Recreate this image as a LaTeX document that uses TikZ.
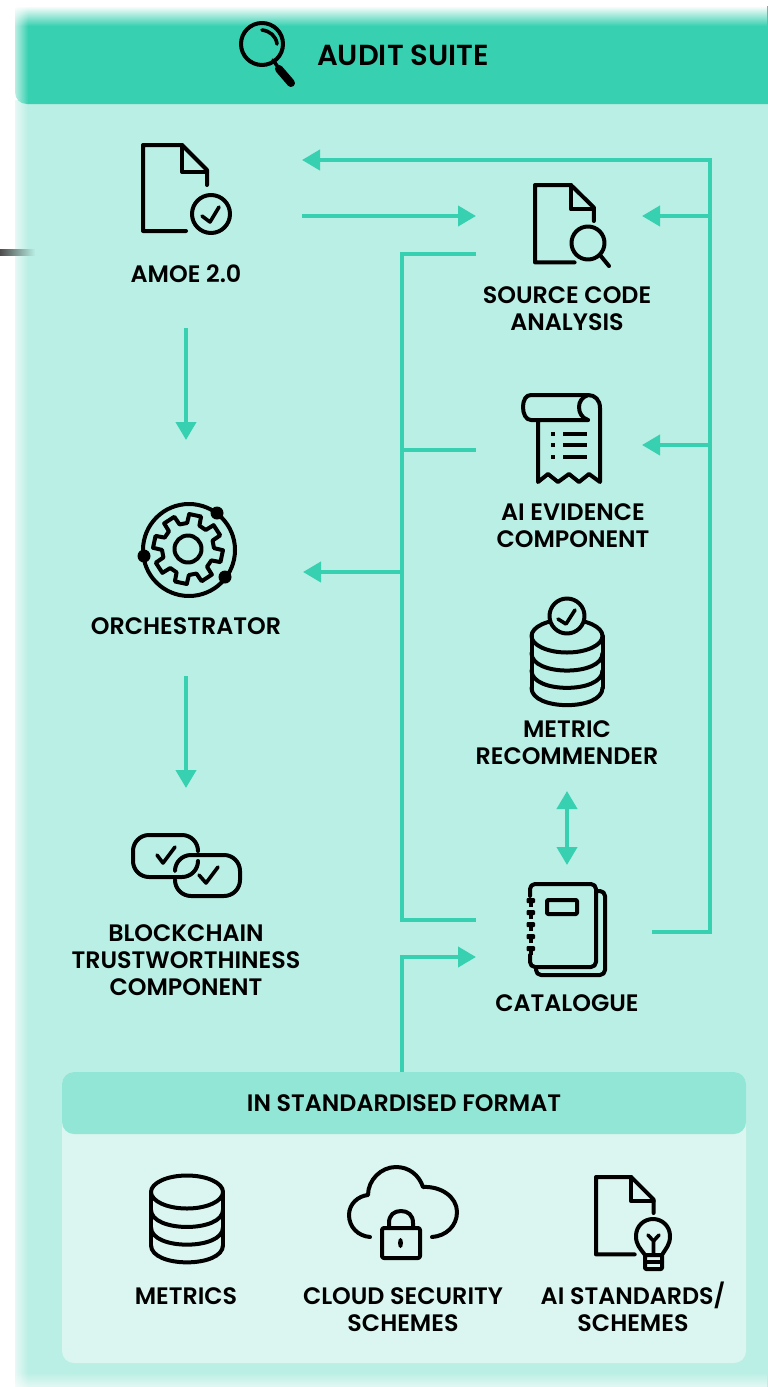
\documentclass[tikz,border=0pt]{standalone}
\usepackage{fontspec}
\setmainfont{Poppins}[UprightFont=* SemiBold]
\usetikzlibrary{arrows.meta, fadings}

\definecolor{auditteal}{HTML}{37D1B1}
\definecolor{auditbody}{HTML}{B9EFE4}
\definecolor{auditband}{HTML}{92E6D5}
\definecolor{auditpanel}{HTML}{DBF6F0}

\tikzfading[name=edgeleft, left color=transparent!35, right color=transparent!100]
\tikzfading[name=edgetop, top color=transparent!0, bottom color=transparent!100]
\tikzfading[name=edgebottom, top color=transparent!100, bottom color=transparent!40]

\tikzset{
	iconbox/.style={inner sep=0, outer sep=0},
	lbl/.style={inner sep=0, font=\fontsize{23.8}{27}\selectfont, align=center, text=black},
	link/.style={draw=auditteal, line width=4},
	flow/.style={link, -{Triangle[length=18pt, width=20pt]}},
	biflow/.style={link, {Triangle[length=18pt, width=20pt]}-{Triangle[length=18pt, width=20pt]}},
	ico/.style={draw=black, line width=4, line join=round, line cap=round},
	icothin/.style={ico, line width=3.6},
}

\newcommand{\docshape}{
	\draw[ico] (43,86) -- (0,86) -- (0,0) -- (39,0) -- (64,25) -- (64,40);
	\draw[ico] (39,0) -- (39,27) -- (64,27);
}
\newcommand{\dbshape}[4]{
	\draw[ico] (#1-#2,#3) -- (#1-#2,#3+3*#4);
	\draw[ico] (#1+#2,#3) -- (#1+#2,#3+3*#4);
	\draw[ico] (#1,#3) ellipse ({#2} and 16.5);
	\foreach \k in {1,2,3} {
		\draw[ico] (#1-#2,#3+\k*#4) .. controls (#1-#2,#3+\k*#4+23) and (#1+#2,#3+\k*#4+23) .. (#1+#2,#3+\k*#4);
	}
}

\begin{document}
\begin{tikzpicture}[x=1pt, y=-1pt]
	\useasboundingbox (0,0) rectangle (768,1387);
	\fill [white] (0,0) rectangle (768,1387);

	\begin{scope}
		\fill [auditbody] (15,100) rectangle (768,1387);
		\fill [auditteal] (15,6) -- (768,6) -- (768,104) -- (27,104) .. controls (20,104) and (15,99) .. (15,92) -- cycle;
		\fill [white, path fading=edgeleft] (15,0) rectangle (28,1387);
		\fill [white, path fading=edgetop] (15,6) rectangle (768,26);
		\fill [white, path fading=edgebottom] (15,1372) rectangle (768,1387);
		\shade [left color=black!70, right color=auditbody] (0,249.5) rectangle (35,255);
	\end{scope}

	\node [lbl, font=\fontsize{29}{30}\selectfont] (suitetitle) at (403,55) {AUDIT SUITE};
	\node [iconbox, minimum width=232, minimum height=224] (amoe) at (186,216) {};
	\node [iconbox, minimum width=234, minimum height=236] (orchestrator) at (186,558) {};
	\node [iconbox, minimum width=234, minimum height=184] (blockchain) at (186,880) {};
	\node [iconbox, minimum width=166, minimum height=160] (source) at (559,216) {};
	\node [iconbox, minimum width=166, minimum height=100] (evidence) at (559,448) {};
	\node [iconbox, minimum width=180, minimum height=182] (recommender) at (567,700) {};
	\node [iconbox, minimum width=176, minimum height=122] (catalogue) at (564,926) {};

	\node [iconbox, fill=auditpanel, rounded corners=12, minimum width=684, minimum height=291] (formatpanel) at (404,1217.5) {};
	\node [lbl, fill=auditband, rounded corners=12, minimum width=684, minimum height=62] (format) at (404,1103) {IN STANDARDISED FORMAT};

	\node [lbl] (amoelabel) at (186,274) {AMOE 2.0};
	\node [lbl] (sourcelabel) at (567,308.5) {SOURCE CODE\\ANALYSIS};
	\node [lbl] (evidencelabel) at (573,525.5) {AI EVIDENCE\\COMPONENT};
	\node [lbl] (recommenderlabel) at (567,742.5) {METRIC\\RECOMMENDER};
	\node [lbl] (orchestratorlabel) at (186,626) {ORCHESTRATOR};
	\node [lbl] (blockchainlabel) at (186,960) {BLOCKCHAIN\\TRUSTWORTHINESS\\COMPONENT};
	\node [lbl] (cataloguelabel) at (567,1003) {CATALOGUE};
	\node [lbl] (metricslabel) at (186,1296) {METRICS};
	\node [lbl] (cloudlabel) at (403,1309.5) {CLOUD SECURITY\\SCHEMES};
	\node [lbl] (standardslabel) at (633,1307) {AI STANDARDS/\\SCHEMES};

	\coordinate (rightcorner) at (710,160);
	\coordinate (leftcorner) at (402,254);
	\coordinate (sourceout) at (476,254);
	\coordinate (evidenceout) at (476,450);
	\coordinate (evidencein) at (642,445);
	\coordinate (orchestratorin) at (303,572);
	\coordinate (catalogueout) at (652,932);
	\coordinate (cataloguereturn) at (476,920);
	\coordinate (cataloguein) at (476,957);

	\begin{scope}
		\draw [flow] (amoe.east |- source.west) -- (source.west);
		\draw [flow] (catalogueout) -| (rightcorner) -- (amoe.east |- rightcorner);
		\draw [flow] (rightcorner |- source.east) -- (source.east);
		\draw [flow] (rightcorner |- evidencein) -- (evidencein);
		\draw [link] (sourceout) -- (leftcorner) |- (cataloguereturn);
		\draw [link] (evidenceout) -- (leftcorner |- evidenceout);
		\draw [flow] (leftcorner |- orchestratorin) -- (orchestratorin);
		\draw [flow] ([xshift=-2pt]format.north) |- (cataloguein);
		\draw [flow] (amoe.south) -- (orchestrator.north);
		\draw [flow] (orchestrator.south) -- (blockchain.north);
		\draw [biflow] (recommender.south) -- (recommender.south |- catalogue.north);
	\end{scope}

	\begin{scope}
		\draw [ico] (262,44) circle (21);
		\draw [icothin] (262,30) .. controls (270,31) and (276,36) .. (277,44);
		\draw [icothin] (273,60) -- (280,70);
		\draw [ico, line width=8] (279,69) -- (291,83);
	\end{scope}

	\begin{scope}[shift={(143,145)}]
		\docshape
	\end{scope}
	\begin{scope}
		\draw [ico] (211,214) circle (19);
		\draw [icothin] (202,216) -- (210,222) -- (219,207);
	\end{scope}

	\begin{scope}[shift={(535,185)}, xscale=0.92, yscale=0.9]
		\docshape
	\end{scope}
	\begin{scope}
		\draw [ico] (588,243) circle (16.5);
		\draw [ico] (600,255) -- (609,266);
	\end{scope}

	\begin{scope}
		\draw [ico] (588,420) -- (531,420) .. controls (526,420) and (523,414) .. (523,407) .. controls (523,400) and (526,395) .. (531,395) -- (588,395) .. controls (595,395) and (600,400) .. (600,408) -- (600,482) -- (589,474) -- (579,482) -- (569,474) -- (558,482) -- (548,474) -- (538,482) -- (538,420);
		\draw [ico] (588,395) .. controls (582,397) and (579,402) .. (579,407) .. controls (579,413) and (582,418) .. (588,420);
		\foreach \y in {434,445,457} {
			\fill (551,\y-2) rectangle (555,\y+2);
			\draw [ico, line cap=butt] (563,\y) -- (587,\y);
		}
	\end{scope}

	\begin{scope}[shift={(567,0)}]
		\dbshape{0}{35.5}{636}{17.3}
	\end{scope}
	\begin{scope}
		\draw [ico, fill=auditbody] (567,616) circle (17.5);
		\draw [icothin] (558,619) -- (566,624) -- (575,610);
	\end{scope}

	\begin{scope}[shift={(189,550)}]
		\draw [ico] (0,0) circle (46);
		\fill (28,-37) circle (6.5);
		\fill (-45,6) circle (6.5);
		\fill (36,27) circle (6.5);
	\end{scope}
	\begin{scope}[shift={(188,549)}]
		\draw [ico] (0,0) circle (13.5);
		\draw [ico] \foreach \a in {12,57,...,327} { (\a-10:35) -- (\a+10:35) -- (\a+14:26) -- (\a+31:26) -- (\a+35:35) };
	\end{scope}

	\begin{scope}
		\draw [ico, rounded corners=16] (198,851) -- (198,835) -- (133,835) -- (133,877) -- (198,877) -- (198,861);
		\draw [ico, rounded corners=16] (175,880) -- (175,896) -- (240,896) -- (240,855) -- (175,855) -- (175,870);
		\draw [icothin] (157,855) -- (163,863) -- (175,847);
		\draw [icothin] (199,875) -- (206,883) -- (218,867);
	\end{scope}

	\begin{scope}
		\draw [ico, rounded corners=5] (530,896) -- (530,884) -- (596,884) -- (596,967) -- (530,967) -- (530,955);
		\draw [ico, rounded corners=5] (597,891) -- (605,891) -- (605,975) -- (536,975) -- (536,968);
		\draw [ico, rounded corners=1] (547,900) rectangle (577,914);
		\foreach \y in {901,913,925,937,949} {
			\fill [rounded corners=1] (526.5,\y-3) rectangle (535,\y+2);
			\fill (528.5,\y+1) rectangle (533,\y+6);
		}
	\end{scope}

	\begin{scope}
		\dbshape{187}{36}{1192}{17.7}
	\end{scope}

	\begin{scope}
		\draw [ico] (370,1237) .. controls (358,1236) and (349,1227) .. (349,1215) .. controls (349,1204) and (358,1196) .. (368,1195) .. controls (368,1180) and (381,1167) .. (396,1167) .. controls (409,1167) and (419,1175) .. (423,1187) .. controls (441,1186) and (457,1197) .. (457,1212) .. controls (457,1226) and (446,1236) .. (432,1237);
		\draw [ico, rounded corners=2] (382,1228) rectangle (420,1258);
		\draw [ico] (389,1228) -- (389,1223) .. controls (389,1215) and (394,1211) .. (401,1211) .. controls (408,1211) and (413,1215) .. (413,1223) -- (413,1228);
		\fill (400.5,1243) ellipse (2.5 and 5);
	\end{scope}

	\begin{scope}[shift={(596,1177)}, xscale=0.9, yscale=0.9]
		\docshape
	\end{scope}
	\begin{scope}
		\draw [ico] (645,1255) .. controls (640,1248) and (636,1245) .. (636,1236) .. controls (636,1226) and (644,1219) .. (653,1219) .. controls (662,1219) and (670,1226) .. (670,1236) .. controls (670,1245) and (666,1248) .. (662,1255);
		\draw [ico, rounded corners=1] (645,1255) rectangle (662,1269);
		\draw [ico] (645,1262) -- (662,1262);
		\draw [icothin] (653.5,1255) -- (653.5,1241) -- (648,1235);
		\draw [icothin] (653.5,1241) -- (659,1235);
	\end{scope}
\end{tikzpicture}
\end{document}
